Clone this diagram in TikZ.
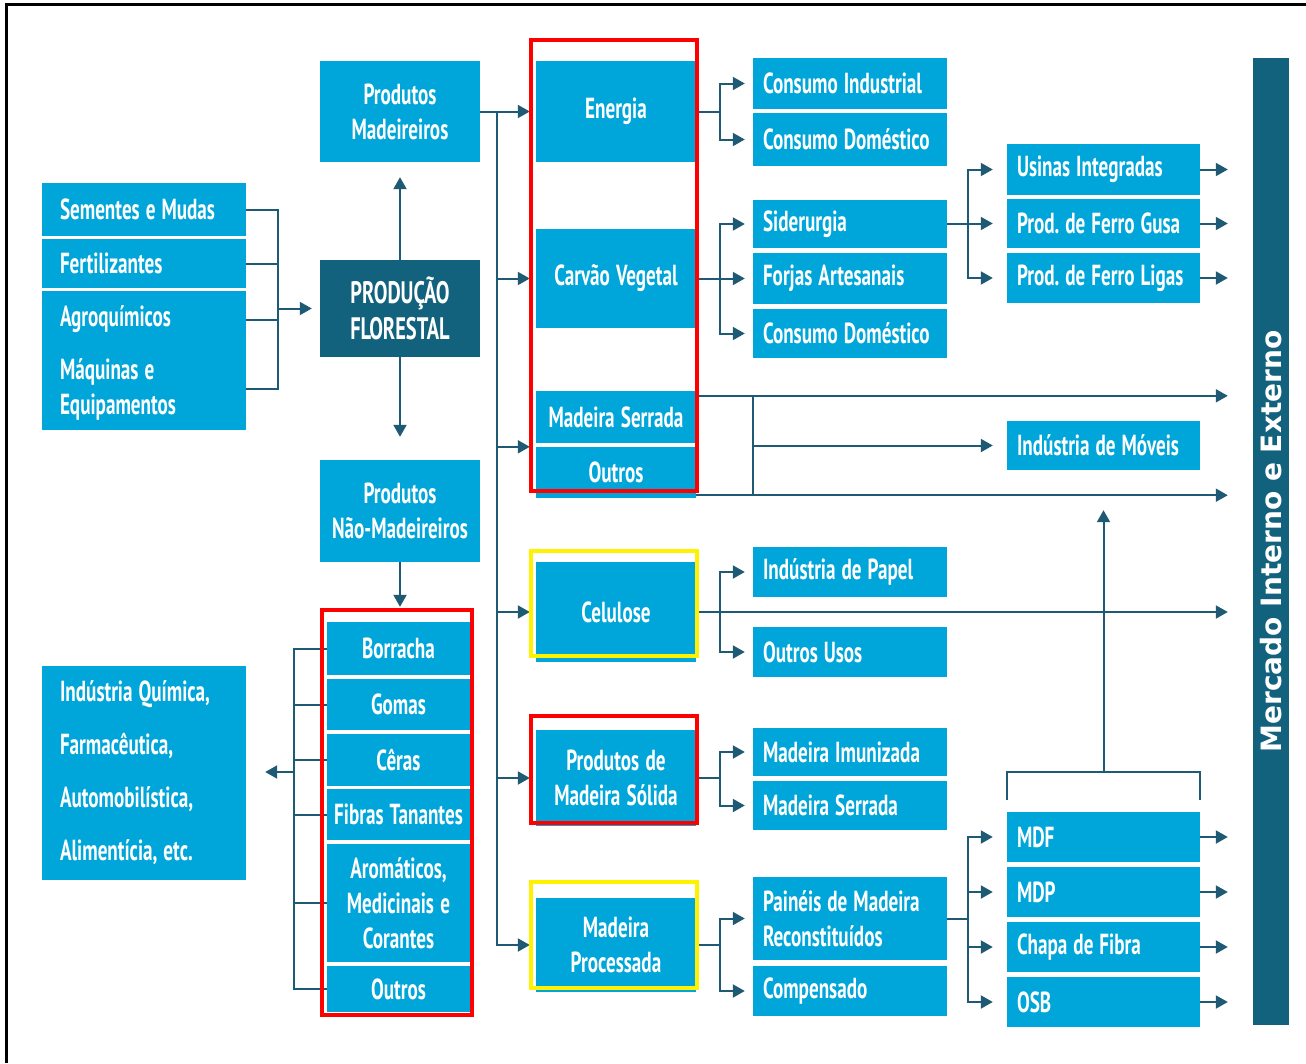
\documentclass[tikz,border=0pt]{standalone}
\usepackage{fontspec}
\usetikzlibrary{arrows.meta,calc}
\newfontfamily\boxfont{PT Sans}[FakeStretch=0.66]
\newfontfamily\barfont{DejaVu Sans}
\newcommand\tightsp{\spaceskip=6pt plus 1pt minus 1pt\xspaceskip=6pt plus 1pt minus 1pt\relax}

\definecolor{boxblue}{RGB}{0,166,218}
\definecolor{deepblue}{RGB}{18,98,126}
\definecolor{linecol}{RGB}{30,90,115}

\tikzset{
  box/.style={fill=boxblue, text=white, inner ysep=0pt,
    font=\boxfont\bfseries\fontsize{29}{35}\selectfont,
    execute at begin node=\tightsp},
  lcol/.style={box, text width=168pt, inner xsep=18pt, align=left},
  ccol/.style={box, text width=152pt, inner xsep=4pt, align=center},
  scol/.style={box, text width=141pt, inner xsep=1pt, align=center},
  rcol/.style={box, text width=174pt, inner xsep=10pt, align=left},
  fcol/.style={box, text width=173pt, inner xsep=10pt, align=left},
  conn/.style={draw=linecol, line width=2pt},
  arr/.style={conn, -{Triangle[length=12pt,width=13pt]}, shorten >=8pt},
  hilite/.style={line width=4pt},
}

\begin{document}
\begin{tikzpicture}[x=1pt,y=-1pt]
\useasboundingbox (0,0) rectangle (1306,1063);
\draw[line width=3pt] (6,1063) -- (6,4) -- (1306,4);

%NODE
% insumos
\node[lcol, minimum height=53pt] (sem) at (144,209.5) {Sementes e Mudas};
\node[lcol, minimum height=49pt] (fer) at (144,263.5) {Fertilizantes};
\node[lcol, minimum height=57pt] (agq) at (144,319.5) {Agroquímicos};
\node[lcol, minimum height=82pt] (maq) at (144,389) {Máquinas e\\Equipamentos};
\node[lcol, minimum height=214pt, font=\boxfont\bfseries\fontsize{29}{53}\selectfont] (iq) at (144,773)
  {Indústria Química,\\Farmacêutica,\\Automobilística,\\Alimentícia, etc.};

% producao
\node[ccol, minimum height=101pt] (pm) at (400,111.5) {Produtos\\Madeireiros};
\node[ccol, minimum height=97pt, fill=deepblue, font=\boxfont\bfseries\fontsize{31}{36}\selectfont] (pf) at (400,308.5) {PRODUÇÃO\\FLORESTAL};
\node[ccol, minimum height=102pt] (pnm) at (400,511) {Produtos\\Não-Madeireiros};

% nao madeireiros
\node[scol, minimum height=53pt] (bor) at (398.5,648.5) {Borracha};
\node[scol, minimum height=51pt] (gom) at (398.5,704.5) {Gomas};
\node[scol, minimum height=52pt] (cer) at (398.5,760) {Cêras};
\node[scol, minimum height=51pt] (fib) at (398.5,814.5) {Fibras Tanantes};
\node[scol, minimum height=118pt] (aro) at (398.5,903) {Aromáticos,\\Medicinais e\\Corantes};
\node[scol, minimum height=46pt] (otr) at (398.5,989) {Outros};

% madeireiros
\node[ccol, minimum height=101pt] (en) at (616,111.5) {Energia};
\node[ccol, minimum height=99pt] (cv) at (616,278.5) {Carvão Vegetal};
\node[ccol, minimum height=52pt] (ms) at (616,417) {Madeira Serrada};
\node[ccol, minimum height=51pt] (ou) at (616,472.5) {Outros};
\node[ccol, minimum height=100pt] (ce) at (616,612) {Celulose};
\node[ccol, minimum height=96pt] (pms) at (616,778) {Produtos de\\Madeira Sólida};
\node[ccol, minimum height=94pt] (mp) at (616,945) {Madeira\\Processada};

% destinos
\node[rcol, minimum height=51pt] (ci) at (850,83.5) {Consumo Industrial};
\node[rcol, minimum height=53pt] (cd1) at (850,139.5) {Consumo Doméstico};
\node[rcol, minimum height=48pt] (sid) at (850,224) {Siderurgia};
\node[rcol, minimum height=51pt] (fa) at (850,278.5) {Forjas Artesanais};
\node[rcol, minimum height=49pt] (cd2) at (850,333.5) {Consumo Doméstico};
\node[rcol, minimum height=50pt] (ip) at (850,572) {Indústria de Papel};
\node[rcol, minimum height=50pt] (outu) at (850,652) {Outros Usos};
\node[rcol, minimum height=48pt] (mi) at (850,752) {Madeira Imunizada};
\node[rcol, minimum height=49pt] (ms2) at (850,805.5) {Madeira Serrada};
\node[rcol, minimum height=83pt] (pmr) at (850,918.5) {Painéis de Madeira\\Reconstituídos};
\node[rcol, minimum height=50pt] (comp) at (850,991) {Compensado};

\node[fcol, minimum height=51pt] (ui) at (1103.5,169.5) {Usinas Integradas};
\node[fcol, minimum height=49pt] (fg) at (1103.5,223.5) {Prod. de Ferro Gusa};
\node[fcol, minimum height=50pt] (fl) at (1103.5,278) {Prod. de Ferro Ligas};
\node[fcol, minimum height=49pt] (imv) at (1103.5,445.5) {Indústria de Móveis};
\node[fcol, minimum height=50pt] (mdf) at (1103.5,837) {MDF};
\node[fcol, minimum height=50pt] (mdp) at (1103.5,892) {MDP};
\node[fcol, minimum height=50pt] (cf) at (1103.5,947) {Chapa de Fibra};
\node[fcol, minimum height=50pt] (osb) at (1103.5,1002) {OSB};

% mercado
\node[fill=deepblue, minimum width=36pt, minimum height=967pt, inner sep=0pt] (mkt) at (1271,541.5) {};
\node[rotate=90, text=white, font=\barfont\bfseries\fontsize{28}{28}\selectfont] (mktxt) at (mkt.center) {Mercado Interno e Externo};

%EDGE
\coordinate (jA) at (278,308.5);
\draw[conn] (sem.east) -| (jA |- maq.east) -- (maq.east);
\draw[conn] (fer.east) -- (jA |- fer);
\draw[conn] (agq.east) -- (jA |- agq);
\draw[arr] (jA) -- (pf.west);

\draw[arr, shorten >=15pt] (pf.north) -- (pm.south);
\draw[arr, shorten >=23pt] (pf.south) -- (pnm.north);
\draw[arr, shorten >=15pt] (pnm.south) -- (pnm.south |- bor.north);

\coordinate (jS) at (294,772);
\draw[conn] (bor.west) -| (jS |- otr.west) -- (otr.west);
\foreach \n in {gom,cer,fib,aro} \draw[conn] (\n.west) -- (jS |- \n.west);
\draw[arr, shorten >=19pt] (jS) -- (jS -| iq.east);

\coordinate (bus) at (497,111.5);
\draw[conn] (pm.east) -- (bus);
\draw[arr, shorten >=6pt] (bus) -- (en.west);
\draw[arr, shorten >=6pt] (bus) |- (mp.west);
\foreach \n in {cv,ce,pms} \draw[arr, shorten >=6pt] (bus |- \n.west) -- (\n.west);
\draw[arr, shorten >=6pt] (bus |- ou.north west) -- (ou.north west);

\coordinate (jB) at (720,111.5);
\draw[conn] (en.east) -- (jB);
\draw[arr] (jB) |- (ci.west);
\draw[arr] (jB) |- (cd1.west);
\draw[conn] (cv.east) -- (jB |- cv.east);
\foreach \n in {sid,fa,cd2} \draw[arr] (jB |- cv.east) |- (\n.west);

\coordinate (jC) at (968,224);
\draw[conn] (sid.east) -- (jC);
\foreach \n in {ui,fg,fl} \draw[arr, shorten >=14pt] (jC) |- (\n.west);
\foreach \n in {ui,fg,fl,mdf,mdp,cf,osb} \draw[arr, shorten >=25pt] (\n.east) -- (\n.east -| mkt.west);

\coordinate (msT) at ([yshift=-5pt]ms.north east);
\coordinate (msB) at ([yshift=3pt]ou.south east);
\draw[arr, shorten >=25pt] (msT) -- (msT -| mkt.west);
\draw[arr, shorten >=25pt] (msB) -- (msB -| mkt.west);
\draw[conn] (msT -| ci.west) -- (msB -| ci.west);
\draw[arr, shorten >=14pt] (ci.west |- imv.west) -- (imv.west);

\draw[arr, shorten >=25pt] (ce.east) -- (ce.east -| mkt.west);
\draw[arr] (jB |- ce.east) |- (ip.west);
\draw[arr] (jB |- ce.east) |- (outu.west);

\draw[conn] (pms.east) -- (jB |- pms.east);
\draw[arr] (jB |- pms.east) |- (mi.west);
\draw[arr] (jB |- pms.east) |- (ms2.west);

\draw[conn] (mp.east) -- (jB |- mp.east);
\draw[arr] (jB |- mp.east) |- (pmr.west);
\draw[arr] (jB |- mp.east) |- (comp.west);

\draw[conn] (pmr.east) -- (jC |- pmr.east);
\foreach \n in {mdf,mdp,cf,osb} \draw[arr, shorten >=14pt] (jC |- pmr.east) |- (\n.west);

\coordinate (bkT) at (1103.5,772);
\draw[conn] ([yshift=12pt]mdf.north west) |- (bkT) -| ([yshift=12pt]mdf.north east);
\draw[arr, shorten >=15pt] (bkT) -- (bkT |- msB);

% destaques
\draw[red, hilite] (531,40) rectangle (697,491);
\draw[yellow, hilite] (531,551) rectangle (697,656);
\draw[red, hilite] (531,716) rectangle (697,823);
\draw[yellow, hilite] (531,882) rectangle (697,988);
\draw[red, hilite] (322,610) rectangle (472,1015);
\end{tikzpicture}
\end{document}
